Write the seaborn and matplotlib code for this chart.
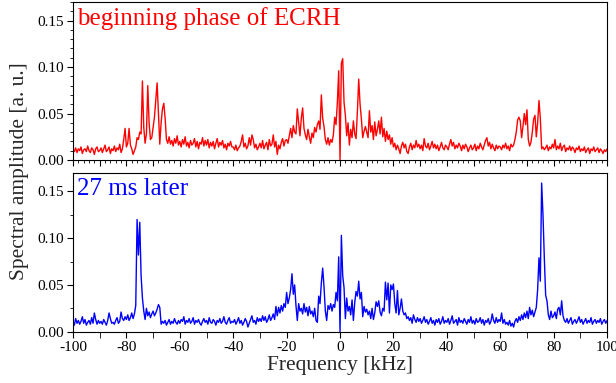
import numpy as np
import pandas as pd
import matplotlib
matplotlib.use("Agg")
import matplotlib.pyplot as plt
from matplotlib.ticker import MultipleLocator, FormatStrFormatter
import seaborn as sns

# Frequency bins of the spectra (kHz), 0.5 kHz resolution
freq_khz = np.linspace(-100, 100, 401)

# Spectral amplitude, beginning phase of ECRH (units of 1e-3 a.u.), one row per 10 kHz
early_milli = [
    11, 9, 13, 8, 12, 10, 14, 7, 11, 12, 9, 15, 10, 8, 13, 11, 6, 12, 14, 9,
    10, 13, 8, 12, 16, 9, 11, 14, 7, 12, 10, 15, 9, 13, 11, 17, 8, 12, 22, 34,
    14, 18, 34, 16, 12, 6, 10, 14, 24, 22, 30, 28, 85, 35, 18, 28, 80, 40, 22, 24,
    35, 46, 64, 83, 50, 17, 40, 55, 61, 45, 22, 18, 25, 17, 21, 15, 23, 18, 26, 16,
    20, 14, 22, 17, 25, 15, 19, 13, 21, 16, 18, 23, 14, 20, 12, 19, 17, 24, 15, 21,
    16, 22, 13, 19, 15, 20, 12, 18, 23, 14, 19, 16, 21, 13, 17, 11, 18, 15, 20, 14,
    14, 11, 16, 10, 13, 15, 20, 27, 14, 18, 12, 15, 24, 16, 27, 22, 13, 17, 11, 14,
    18, 13, 21, 12, 16, 19, 11, 22, 15, 17, 27, 14, 20, 6, 16, 12, 19, 23, 15, 21,
    22, 18, 26, 34, 24, 37, 30, 28, 55, 40, 26, 45, 56, 34, 27, 22, 33, 25, 18, 29,
    24, 35, 30, 38, 42, 33, 70, 45, 36, 22, 17, 24, 16, 22, 19, 27, 46, 38, 62, 96,
    0, 104, 109, 62, 48, 26, 40, 16, 33, 24, 42, 28, 23, 52, 87, 60, 44, 24, 31, 36,
    30, 24, 53, 30, 37, 22, 41, 26, 33, 42, 28, 46, 25, 34, 20, 31, 22, 27, 17, 24,
    14, 18, 11, 16, 12, 7, 15, 19, 13, 17, 9, 7, 14, 18, 11, 16, 13, 21, 14, 17,
    12, 16, 10, 23, 15, 13, 18, 11, 15, 20, 13, 17, 12, 16, 10, 14, 19, 13, 11, 16,
    14, 11, 17, 22, 15, 19, 12, 16, 13, 18, 15, 10, 16, 12, 17, 14, 9, 13, 16, 11,
    13, 17, 10, 15, 12, 18, 14, 11, 16, 21, 24, 15, 19, 12, 17, 13, 10, 16, 12, 15,
    14, 11, 16, 13, 18, 12, 15, 10, 17, 14, 16, 22, 30, 43, 46, 42, 24, 36, 50, 38,
    54, 22, 15, 19, 30, 44, 48, 25, 40, 64, 45, 12, 14, 11, 13, 16, 10, 14, 12, 17,
    13, 22, 11, 15, 12, 18, 10, 14, 16, 9, 13, 11, 15, 10, 14, 12, 8, 13, 11, 15,
    9, 12, 10, 14, 8, 11, 13, 7, 12, 10, 14, 9, 11, 13, 8, 12, 10, 7, 11, 9,
    12,
]

# Spectral amplitude 27 ms later (units of 1e-3 a.u.)
later_milli = [
    10, 7, 14, 9, 12, 8, 11, 16, 9, 13, 7, 10, 12, 8, 15, 9, 20, 13, 8, 12,
    9, 11, 8, 13, 10, 7, 12, 20, 14, 9, 10, 8, 12, 15, 9, 11, 21, 14, 12, 16,
    13, 18, 12, 15, 20, 14, 19, 28, 120, 82, 117, 60, 36, 22, 13, 25, 17, 21, 15, 19,
    22, 17, 20, 24, 29, 26, 8, 11, 9, 12, 7, 10, 13, 8, 11, 9, 14, 10, 8, 12,
    9, 13, 11, 16, 8, 12, 10, 14, 9, 11, 15, 8, 12, 10, 13, 9, 7, 11, 14, 10,
    12, 8, 15, 10, 9, 13, 11, 7, 12, 10, 14, 9, 11, 16, 10, 8, 12, 15, 9, 11,
    10, 13, 8, 11, 15, 9, 12, 7, 10, 14, 11, 5, 9, 13, 17, 10, 12, 8, 15, 11,
    14, 11, 17, 12, 16, 10, 13, 18, 12, 15, 19, 13, 27, 17, 26, 20, 28, 22, 30, 26,
    42, 30, 36, 45, 62, 40, 50, 28, 12, 30, 22, 25, 19, 30, 21, 26, 17, 27, 19, 22,
    16, 25, 12, 10, 38, 30, 52, 68, 48, 22, 12, 28, 24, 30, 22, 29, 26, 42, 33, 80,
    0, 103, 60, 47, 14, 36, 22, 27, 18, 34, 12, 31, 43, 38, 54, 35, 42, 16, 27, 21,
    24, 18, 22, 14, 25, 13, 20, 32, 27, 33, 21, 17, 25, 22, 53, 34, 52, 20, 50, 45,
    51, 30, 20, 44, 18, 25, 35, 22, 18, 20, 14, 16, 12, 15, 9, 18, 13, 10, 15, 11,
    14, 9, 12, 16, 10, 13, 8, 11, 15, 9, 12, 7, 13, 10, 14, 8, 11, 16, 9, 12,
    10, 14, 8, 12, 17, 9, 11, 13, 7, 15, 10, 12, 9, 14, 11, 8, 13, 10, 16, 9,
    12, 8, 14, 10, 11, 15, 9, 13, 7, 12, 10, 14, 8, 11, 19, 12, 9, 15, 10, 13,
    11, 20, 9, 13, 8, 10, 7, 12, 6, 9, 5, 11, 14, 10, 16, 12, 18, 13, 20, 15,
    22, 14, 26, 18, 23, 16, 21, 26, 45, 79, 54, 159, 125, 79, 39, 33, 18, 13, 22, 15,
    17, 21, 14, 24, 26, 18, 33, 17, 12, 10, 14, 9, 12, 15, 8, 11, 13, 9, 12, 16,
    10, 13, 8, 11, 14, 9, 12, 10, 15, 8, 11, 13, 9, 12, 10, 14, 8, 11, 13, 9,
    12,
]

panel_titles = ["beginning phase of ECRH", "27 ms later"]
panel_colors = ["#ff0000", "#0000ff"]
x_label = "Frequency [kHz]"
y_label = "Spectral amplitude [a. u.]"

spectra = pd.DataFrame({
    "freq": freq_khz,
    "early": np.array(early_milli) / 1000.0,
    "later": np.array(later_milli) / 1000.0,
})

sns.set_style("ticks")
plt.rcParams["font.family"] = ["Liberation Serif", "DejaVu Serif"]
plt.rcParams["axes.unicode_minus"] = False
plt.rcParams["axes.linewidth"] = 0.8

fig = plt.figure(figsize=(6.16, 3.83), dpi=100)
ax_top = fig.add_axes([0.1185, 0.5823, 0.867, 0.4125])
ax_bot = fig.add_axes([0.1185, 0.134, 0.867, 0.415])

for ax, col, title, color in zip((ax_top, ax_bot), ("early", "later"),
                                 panel_titles, panel_colors):
    sns.lineplot(data=spectra, x="freq", y=col, ax=ax, color=color,
                 linewidth=1.0, estimator=None, sort=False)
    ax.set_xlim(-100, 100)
    ax.set_ylim(0, 0.17)
    ax.set_xlabel("")
    ax.set_ylabel("")
    ax.yaxis.set_major_locator(MultipleLocator(0.05))
    ax.yaxis.set_major_formatter(FormatStrFormatter("%.2f"))
    ax.tick_params(which="major", direction="out", length=4.5, width=0.8,
                   labelsize=11, colors="black", pad=2)
    ax.tick_params(which="minor", direction="out", length=2.5, width=0.7)
    ax.tick_params(top=False, right=False)
    for s in ax.spines.values():
        s.set_color("black")
        s.set_linewidth(0.8)
    ax.text(0.008, 0.97, title, transform=ax.transAxes, color=color,
            fontsize=18, ha="left", va="top")

# upper panel: dense minor ticks, no frequency labels
ax_top.xaxis.set_major_locator(MultipleLocator(10))
ax_top.xaxis.set_minor_locator(MultipleLocator(2))
ax_top.yaxis.set_minor_locator(MultipleLocator(0.01))
ax_top.tick_params(axis="x", labelbottom=False)

# lower panel: labelled every 20 kHz
ax_bot.xaxis.set_major_locator(MultipleLocator(20))
ax_bot.xaxis.set_minor_locator(MultipleLocator(10))
ax_bot.yaxis.set_minor_locator(MultipleLocator(0.025))
ax_bot.tick_params(axis="x", which="minor", length=4.5)
ax_bot.set_xlabel(x_label, fontsize=15.5, labelpad=1.5)

fig.text(0.031, 0.553, y_label, rotation=90, fontsize=15.5,
         ha="center", va="center")

fig.savefig("out.png", dpi=100)
